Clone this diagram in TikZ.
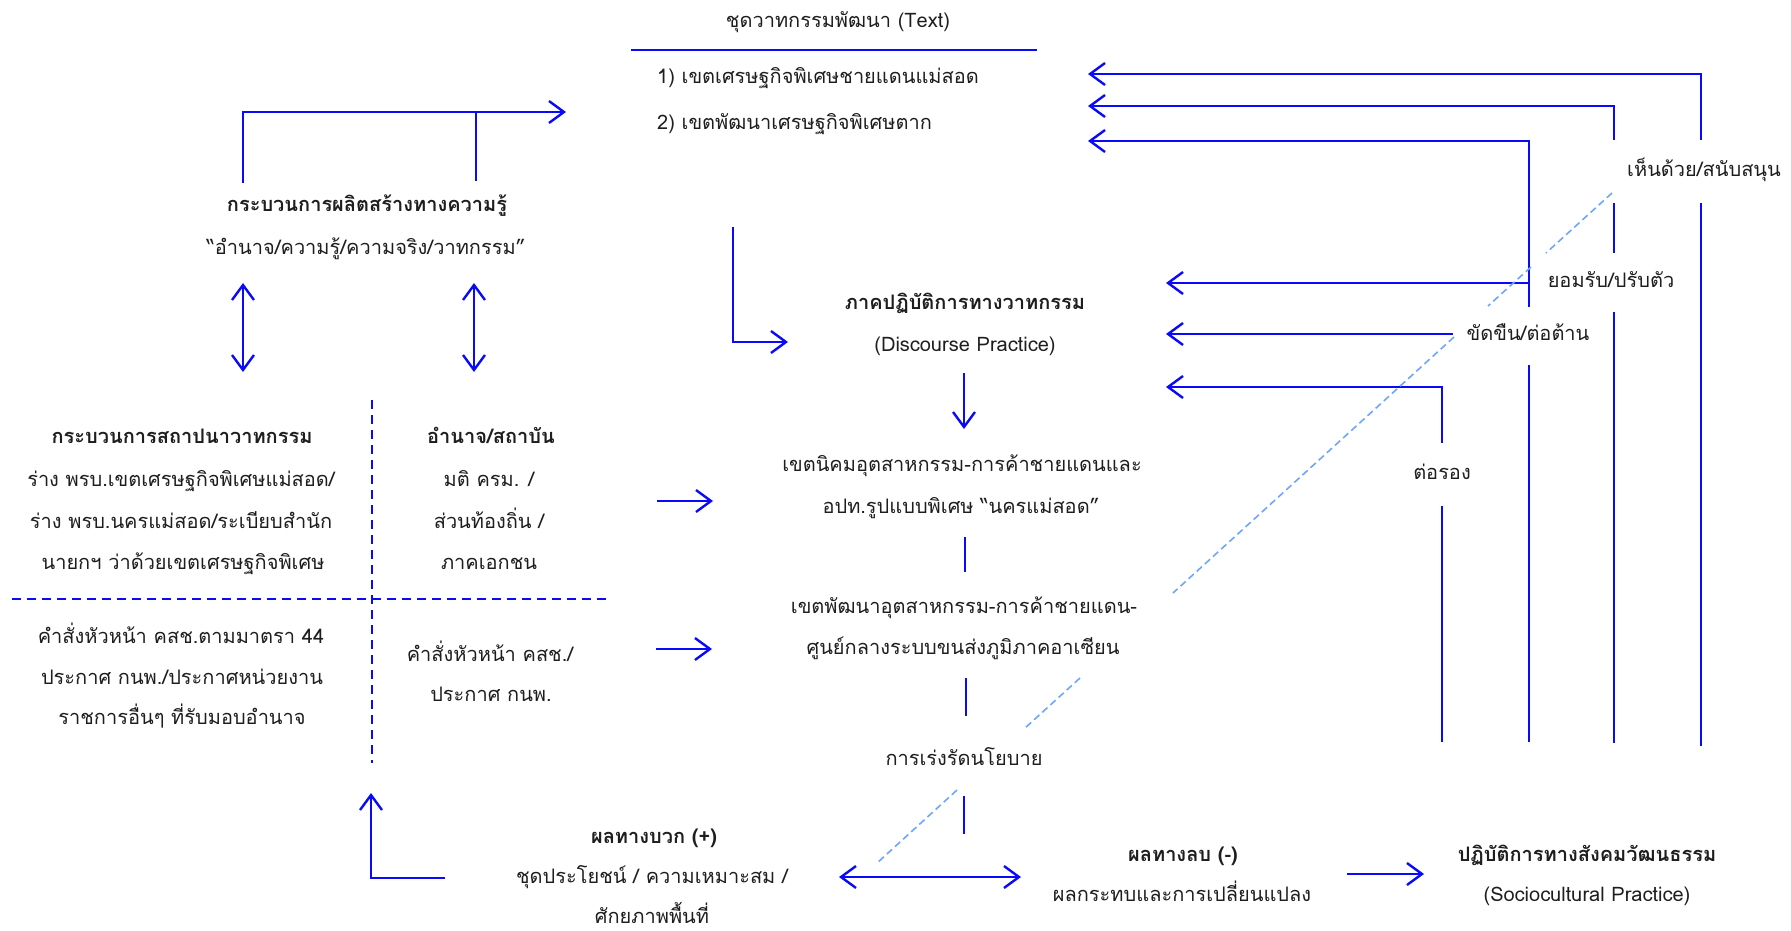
\documentclass[tikz,border=0pt]{standalone}
\usepackage{fontspec}
\setmainfont[Script=Thai]{Loma}
\usetikzlibrary{arrows.meta}
\pgfdeclarelayer{bg}
\pgfsetlayers{bg,main}
\definecolor{lineblue}{RGB}{10,10,250}
\definecolor{diagblue}{RGB}{110,165,255}
\definecolor{ink}{RGB}{30,30,30}
\tikzset{
 txt/.style={font=\fontsize{20}{24}\selectfont, text=ink, inner sep=0pt, anchor=base},
 btxt/.style={txt, font=\fontsize{20}{24}\selectfont\bfseries},
 lbl/.style={font=\fontsize{20}{24}\selectfont, text=ink, fill=white, inner sep=0pt, text height=14pt, text depth=5pt},
 conn/.style={draw=lineblue, line width=2.4pt},
 arr/.style={conn, -{Straight Barb[length=15pt,width=22pt,line width=2.4pt]}},
 darr/.style={conn, {Straight Barb[length=15pt,width=22pt,line width=2.4pt]}-{Straight Barb[length=15pt,width=22pt,line width=2.4pt]}},
 gridline/.style={draw=lineblue, line width=1.8pt, dash pattern=on 9pt off 6pt},
 diag/.style={draw=diagblue, line width=1.6pt, dash pattern=on 7pt off 4pt},
}
\begin{document}
\begin{tikzpicture}[x=1pt,y=-1pt]
\useasboundingbox (0,0) rectangle (1791,931);
% ---------- text nodes ----------
\node[txt] (title) at (838,28) {ชุดวาทกรรมพัฒนา (Text)};
\node[txt,anchor=base west] (t1) at (657,84) {1) เขตเศรษฐกิจพิเศษชายแดนแม่สอด};
\node[txt,anchor=base west] (t2) at (657,130) {2) เขตพัฒนาเศรษฐกิจพิเศษตาก};
\node[btxt] (kp1) at (367,211) {กระบวนการผลิตสร้างทางความรู้};
\node[txt] (kp2) at (366,254) {“อำนาจ/ความรู้/ความจริง/วาทกรรม”};
\node[btxt] (ep1) at (182,443) {กระบวนการสถาปนาวาทกรรม};
\node[txt] (ep2) at (181,486) {ร่าง พรบ.เขตเศรษฐกิจพิเศษแม่สอด/};
\node[txt] (ep3) at (181,528) {ร่าง พรบ.นครแม่สอด/ระเบียบสำนัก};
\node[txt] (ep4) at (183,569) {นายกฯ ว่าด้วยเขตเศรษฐกิจพิเศษ};
\node[btxt] (pi1) at (491,443) {อำนาจ/สถาบัน};
\node[txt] (pi2) at (489,486) {มติ ครม. /};
\node[txt] (pi3) at (489,528) {ส่วนท้องถิ่น /};
\node[txt] (pi4) at (489,569) {ภาคเอกชน};
\node[txt] (ep5) at (181,643) {คำสั่งหัวหน้า คสช.ตามมาตรา 44};
\node[txt] (ep6) at (182,684) {ประกาศ กนพ./ประกาศหน่วยงาน};
\node[txt] (ep7) at (182,724) {ราชการอื่นๆ ที่รับมอบอำนาจ};
\node[txt] (pi5) at (490,661) {คำสั่งหัวหน้า คสช./};
\node[txt] (pi6) at (491,701) {ประกาศ กนพ.};
\node[btxt] (dp1) at (965,309) {ภาคปฏิบัติการทางวาทกรรม};
\node[txt] (dp2) at (965,351) {(Discourse Practice)};
\node[txt] (m1) at (962,471) {เขตนิคมอุตสาหกรรม-การค้าชายแดนและ};
\node[txt] (m2) at (961,513) {อปท.รูปแบบพิเศษ “นครแม่สอด”};
\node[txt] (m3) at (964,613) {เขตพัฒนาอุตสาหกรรม-การค้าชายแดน-};
\node[txt] (m4) at (963,654) {ศูนย์กลางระบบขนส่งภูมิภาคอาเซียน};
\node[txt] (pol) at (964,765) {การเร่งรัดนโยบาย};
\node[btxt] (pos1) at (654,843) {ผลทางบวก (+)};
\node[txt] (pos2) at (652,883) {ชุดประโยชน์ / ความเหมาะสม /};
\node[txt] (pos3) at (652,923) {ศักยภาพพื้นที่};
\node[btxt] (neg1) at (1183,861) {ผลทางลบ (-)};
\node[txt] (neg2) at (1182,901) {ผลกระทบและการเปลี่ยนแปลง};
\node[btxt] (sc1) at (1587,861) {ปฏิบัติการทางสังคมวัฒนธรรม};
\node[txt] (sc2) at (1587,901) {(Sociocultural Practice)};
% ---------- feedback labels ----------
\node[lbl,minimum width=196pt,minimum height=63pt] (l1) at (1704,171.5) {เห็นด้วย/สนับสนุน};
\node[lbl,minimum width=158pt,minimum height=59pt] (l2) at (1611,282.5) {ยอมรับ/ปรับตัว};
\node[lbl,minimum width=150pt,minimum height=58pt] (l3) at (1528,336) {ขัดขืน/ต่อต้าน};
\node[lbl,minimum width=70pt,minimum height=63pt] (l4) at (1442,474.5) {ต่อรอง};
% ---------- coordinates ----------
\coordinate (ulA) at (631,50); \coordinate (ulB) at (1037,50);
\coordinate (brL) at (243,183); \coordinate (brLc) at (243,112); \coordinate (brE) at (566,112);
\coordinate (brR) at (476,181); \coordinate (brRc) at (476,112);
\coordinate (dlA) at (243,283); \coordinate (dlB) at (243,372);
\coordinate (drA) at (474,283); \coordinate (drB) at (474,372);
\coordinate (gvA) at (372,400); \coordinate (gvB) at (372,763);
\coordinate (ghA) at (12,599); \coordinate (ghB) at (607,599);
\coordinate (a1s) at (657,501); \coordinate (a1e) at (713,501);
\coordinate (a2s) at (656,649); \coordinate (a2e) at (712,649);
\coordinate (Ls) at (733,227); \coordinate (Lc) at (733,342); \coordinate (Le) at (788,342);
\coordinate (dwA) at (964,373); \coordinate (dwB) at (964,429);
\coordinate (v1A) at (965,537); \coordinate (v1B) at (965,572);
\coordinate (v2A) at (966,678); \coordinate (v2B) at (966,716);
\coordinate (v3A) at (964,796); \coordinate (v3B) at (964,834);
\coordinate (hbA) at (839,877); \coordinate (hbB) at (1021,877);
\coordinate (bLs) at (445,878); \coordinate (bLc) at (371,878); \coordinate (bLe) at (371,793);
\coordinate (scA) at (1347,874); \coordinate (scB) at (1424,874);
\coordinate (f1a) at (1701,746); \coordinate (f1b) at (1701,74); \coordinate (f1e) at (1088,74);
\coordinate (f2a) at (1614,743); \coordinate (f2b) at (1614,106); \coordinate (f2e) at (1088,106);
\coordinate (f3a) at (1529,742); \coordinate (f3b) at (1529,141); \coordinate (f3e) at (1088,141);
\coordinate (f4a) at (1529,283); \coordinate (f4e) at (1166,283);
\coordinate (f5a) at (1453,334); \coordinate (f5e) at (1166,334);
\coordinate (f6a) at (1442,742); \coordinate (f6b) at (1442,387); \coordinate (f6e) at (1166,387);
% ---------- connectors ----------
\begin{pgfonlayer}{bg}
\draw[conn] (ulA) -- (ulB);
\draw[arr] (brL) -- (brLc) -- (brE);
\draw[conn] (brR) -- (brRc);
\draw[darr] (dlA) -- (dlB);
\draw[darr] (drA) -- (drB);
\draw[gridline] (gvA) -- (gvB);
\draw[gridline] (ghA) -- (ghB);
\draw[arr] (a1s) -- (a1e);
\draw[arr] (a2s) -- (a2e);
\draw[arr] (Ls) -- (Lc) -- (Le);
\draw[arr] (dwA) -- (dwB);
\draw[conn] (v1A) -- (v1B);
\draw[conn] (v2A) -- (v2B);
\draw[conn] (v3A) -- (v3B);
\draw[darr] (hbA) -- (hbB);
\draw[arr] (bLs) -- (bLc) -- (bLe);
\draw[arr] (scA) -- (scB);
\draw[arr] (f1a) -- (f1b) -- (f1e);
\draw[arr] (f2a) -- (f2b) -- (f2e);
\draw[arr] (f3a) -- (f3b) -- (f3e);
\draw[arr] (f4a) -- (f4e);
\draw[arr] (f5a) -- (f5e);
\draw[arr] (f6a) -- (f6b) -- (f6e);
\end{pgfonlayer}
% ---------- diagonal dashed line (segments between texts) ----------
\coordinate (dgA1) at (1612,193); \coordinate (dgA2) at (1546,253);
\coordinate (dgB1) at (1531,267); \coordinate (dgB2) at (1488,306);
\coordinate (dgC1) at (1454,337); \coordinate (dgC2) at (1173,593);
\coordinate (dgD1) at (1080,678); \coordinate (dgD2) at (1025,728);
\coordinate (dgE1) at (957,790); \coordinate (dgE2) at (876,864);
\draw[diag] (dgA1) -- (dgA2);
\draw[diag] (dgB1) -- (dgB2);
\draw[diag] (dgC1) -- (dgC2);
\draw[diag] (dgD1) -- (dgD2);
\draw[diag] (dgE1) -- (dgE2);
\end{tikzpicture}
\end{document}
